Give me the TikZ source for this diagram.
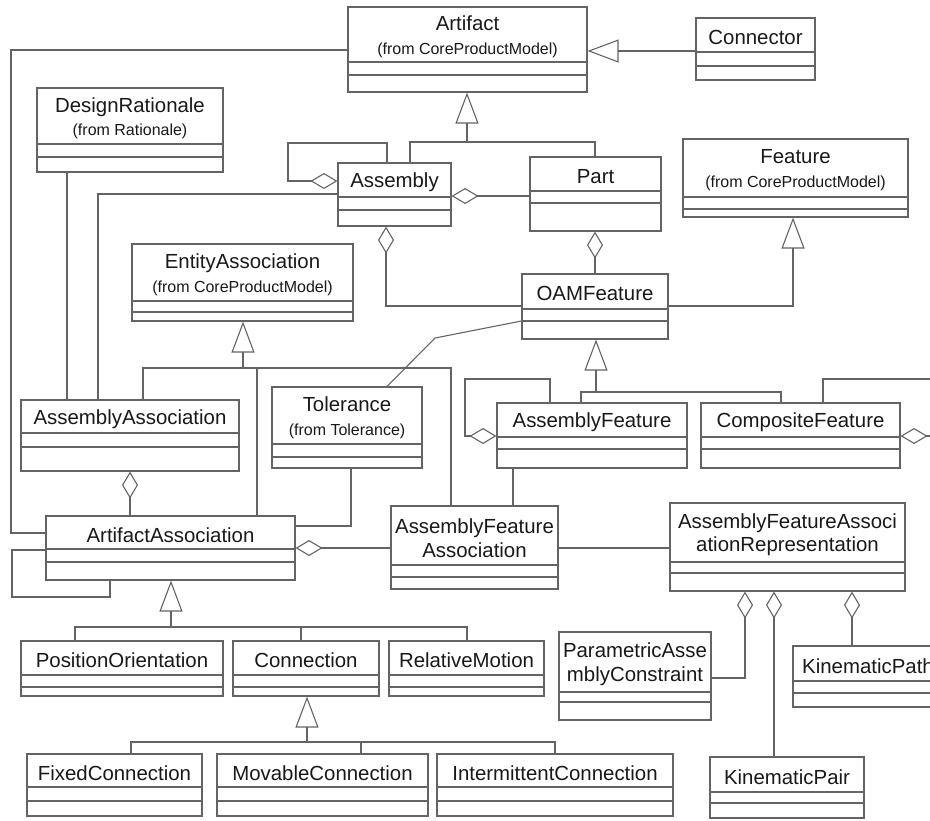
\documentclass[tikz,border=0pt]{standalone}
\usepackage{fontspec}
\setmainfont{Liberation Sans}
\usetikzlibrary{arrows.meta}

\definecolor{umlline}{RGB}{100,100,100}
\definecolor{umltext}{RGB}{25,25,25}

\tikzset{
  classbox/.style={draw=umlline, line width=0.55pt, inner sep=0pt, fill=white},
  compline/.style={draw=umlline, line width=0.55pt},
  classname/.style={text=umltext, font=\fontsize{10.2}{11.8}\selectfont, align=center, inner sep=0pt, yshift=-1.2pt},
  assoc/.style={draw=umlline, line width=0.55pt},
  gen/.style={assoc, -{Triangle[open, length=15.5pt, width=11.5pt]}},
  agg/.style={assoc, {Diamond[open, length=13.5pt, width=8pt]}-},
}

% class box: name, left, top, right, bottom, first rule, second rule, label
\newcommand{\umlclass}[8]{%
  \node[classbox, minimum width={(#4-#2)*0.5pt}, minimum height={(#5-#3)*0.5pt}] (#1) at ({(#2+#4)/2},{(#3+#5)/2}) {};
  \draw[compline] (#1.west |- 0,#6) -- (#1.east |- 0,#6) (#1.west |- 0,#7) -- (#1.east |- 0,#7);
  \node[classname] (#1-name) at ({(#2+#4)/2},{(#3+#6)/2}) {#8};
}
\newcommand{\fromtext}[1]{{\fontsize{8}{9.6}\selectfont #1}}

\begin{document}
\begin{tikzpicture}[x=0.5pt, y=-0.5pt]

    \useasboundingbox (0,0) rectangle (930,820);
    \fill[white] (0,0) rectangle (930,820);
    \clip (0,0) rectangle (930,820);

    % classes
    \umlclass{artifact}{348}{7}{587}{92}{62}{75}{Artifact\\\fromtext{(from CoreProductModel)}}
    \umlclass{connector}{696}{18}{815}{80}{52}{66}{Connector}
    \umlclass{designRationale}{37}{88}{223}{172}{144}{157}{DesignRationale\\\fromtext{(from Rationale)}}
    \umlclass{assembly}{338}{163}{451}{226}{197}{210}{Assembly}
    \umlclass{part}{530}{157}{661}{231}{191}{203}{Part}
    \umlclass{feature}{683}{139}{908}{217}{197}{209}{Feature\\\fromtext{(from CoreProductModel)}}
    \umlclass{entityAssoc}{132}{244}{353}{321}{301}{312}{EntityAssociation\\\fromtext{(from CoreProductModel)}}
    \umlclass{oamFeature}{522}{274}{668}{339}{309}{321}{OAMFeature}
    \umlclass{assemblyAssoc}{21}{400}{239}{471}{433}{447}{AssemblyAssociation}
    \umlclass{tolerance}{272}{387}{422}{468}{444}{457}{Tolerance\\\fromtext{(from Tolerance)}}
    \umlclass{assemblyFeature}{497}{403}{687}{468}{437}{449}{AssemblyFeature}
    \umlclass{compositeFeature}{701}{403}{900}{468}{437}{449}{CompositeFeature}
    \umlclass{artifactAssoc}{46}{516}{295}{580}{549}{562}{ArtifactAssociation}
    \umlclass{afa}{391}{506}{558}{589}{565}{577}{AssemblyFeature\\Association}
    \umlclass{afar}{670}{503}{905}{591}{562}{573}{AssemblyFeatureAssoci\\ationRepresentation}
    \umlclass{positionOrient}{21}{641}{223}{696}{675}{687}{PositionOrientation}
    \umlclass{connection}{233}{641}{379}{696}{675}{687}{Connection}
    \umlclass{relativeMotion}{389}{641}{544}{696}{675}{687}{RelativeMotion}
    \umlclass{pac}{559}{632}{711}{720}{692}{702}{ParametricAsse\\mblyConstraint}
    \umlclass{kinematicPath}{793}{646}{943}{707}{681}{693}{KinematicPath}
    \umlclass{kinematicPair}{710}{757}{864}{818}{792}{803}{KinematicPair}
    \umlclass{fixedConn}{27}{754}{202}{816}{787}{801}{FixedConnection}
    \umlclass{movableConn}{217}{754}{428}{816}{787}{801}{MovableConnection}
    \umlclass{intermittentConn}{437}{754}{673}{816}{787}{801}{IntermittentConnection}

    % generalizations
    \coordinate (artJ) at (467,142);
    \draw[gen] (artJ) -- (artifact.south -| artJ);
    \draw[assoc] (assembly.north -| 410,0) |- (artJ) -| (part.north -| 595,0);
    \draw[gen] (connector.west |- 0,51) -- (artifact.east |- 0,51);
    \draw[gen] (oamFeature.east |- 0,306) -| (feature.south -| 793,0);

    \coordinate (oamJ) at (596,392);
    \draw[gen] (oamJ) -- (oamFeature.south -| oamJ);
    \draw[assoc] (assemblyFeature.north -| 581,0) |- (oamJ) -| (compositeFeature.north -| 781,0);

    \coordinate (eaJ) at (243,368);
    \draw[gen] (eaJ) -- (entityAssoc.south -| eaJ);
    \draw[assoc] (assemblyAssoc.north -| 143,0) |- (eaJ) -| (afa.north -| 451,0);
    \draw[assoc] (eaJ -| 257,0) -- (artifactAssoc.north -| 257,0);

    \coordinate (aaJ) at (171,627);
    \draw[gen] (aaJ) -- (artifactAssoc.south -| aaJ);
    \draw[assoc] (positionOrient.north -| 75,0) |- (aaJ) -| (relativeMotion.north -| 467,0);
    \draw[assoc] (aaJ -| 301,0) -- (connection.north -| 301,0);

    \coordinate (conJ) at (307,742);
    \draw[gen] (conJ) -- (connection.south -| conJ);
    \draw[assoc] (fixedConn.north -| 131,0) |- (conJ) -| (intermittentConn.north -| 555,0);
    \draw[assoc] (conJ -| 361,0) -- (movableConn.north -| 361,0);

    % aggregations
    \draw[agg] (assembly.west |- 0,181) -| (288,143) -| (assembly.north -| 387,0);
    \draw[agg] (assembly.east |- 0,196) -- (part.west |- 0,196);
    \draw[agg] (assembly.south -| 386,0) |- (oamFeature.west |- 0,306);
    \draw[agg] (part.south -| 595,0) -- (oamFeature.north -| 595,0);
    \draw[agg] (assemblyFeature.west |- 0,436) -| (465,379) -| (assemblyFeature.north -| 550,0);
    \coordinate (cfLoop) at (960,379);
    \coordinate (cfOut) at (960,436);
    \draw[agg] (compositeFeature.east |- 0,436) -- (cfOut);
    \draw[assoc] (compositeFeature.north -| 823,0) |- (cfLoop);
    \draw[agg] (assemblyAssoc.south -| 130,0) -- (artifactAssoc.north -| 130,0);
    \draw[agg] (artifactAssoc.east |- 0,548) -- (afa.west |- 0,548);
    \draw[agg] (afar.south -| 745,0) |- (pac.east |- 0,678);
    \draw[agg] (afar.south -| 774,0) -- (kinematicPair.north -| 774,0);
    \draw[agg] (afar.south -| 852,0) -- (kinematicPath.north -| 852,0);

    % plain associations
    \draw[assoc] (oamFeature.west |- 0,321) -- (435,338) -- (tolerance.north -| 387,0);
    \draw[assoc] (designRationale.south -| 67,0) -- (assemblyAssoc.north -| 67,0);
    \draw[assoc] (assembly.west |- 0,194) -| (assemblyAssoc.north -| 98,0);
    \draw[assoc] (artifact.west |- 0,50) -| (11,533) -- (artifactAssoc.west |- 0,533);
    \draw[assoc] (tolerance.south -| 351,0) |- (artifactAssoc.east |- 0,526);
    \draw[assoc] (artifactAssoc.west |- 0,550) -| (12,597) -| (artifactAssoc.south -| 110,0);
    \draw[assoc] (assemblyFeature.south -| 513,0) -- (afa.north -| 513,0);
    \draw[assoc] (afa.east |- 0,548) -- (afar.west |- 0,548);

\end{tikzpicture}
\end{document}
